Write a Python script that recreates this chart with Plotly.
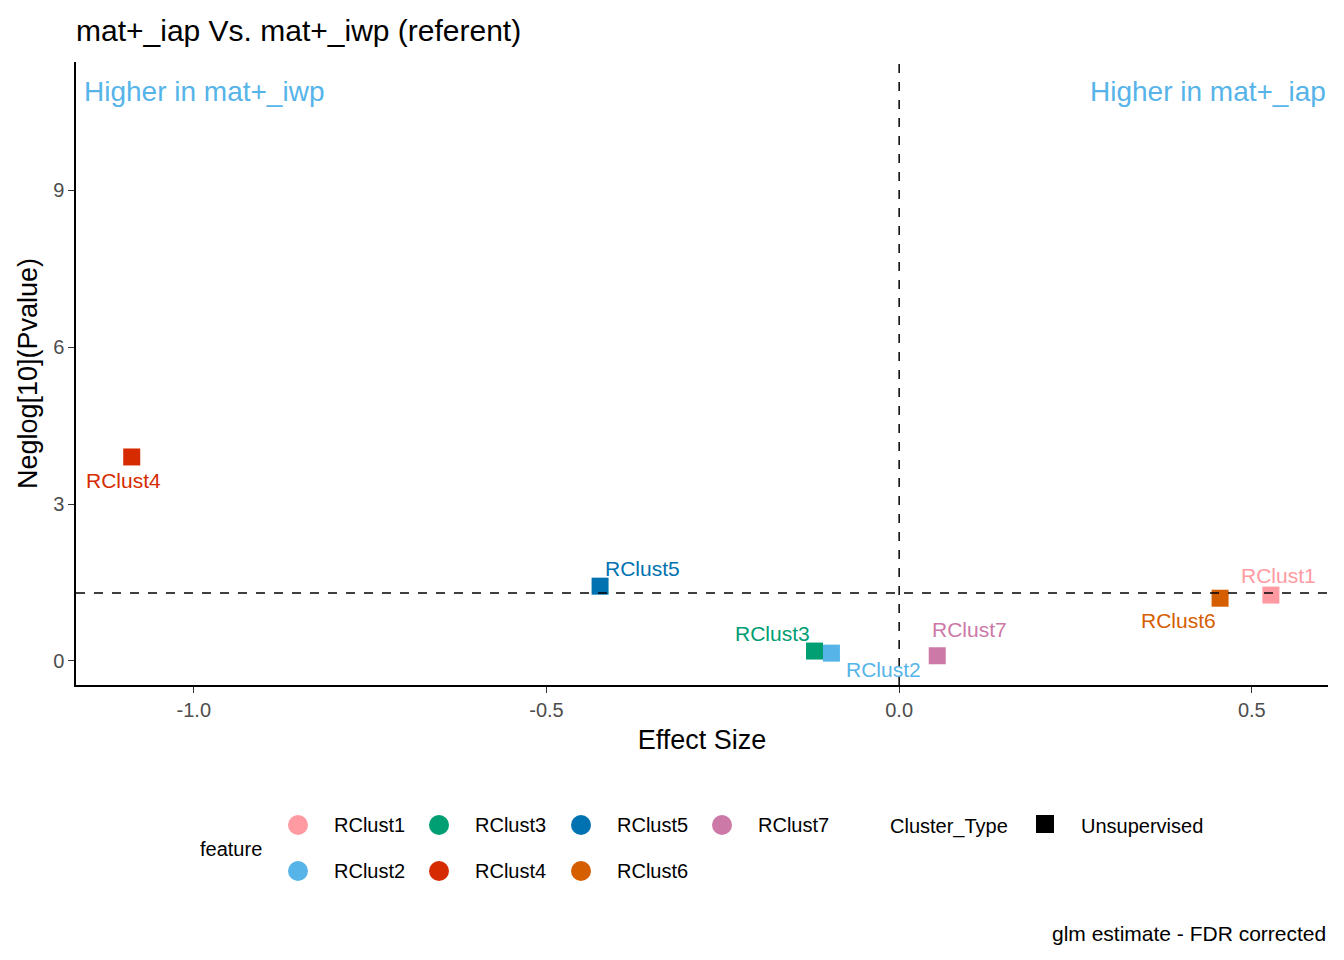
import plotly.graph_objects as go

features = ["RClust1","RClust2","RClust3","RClust4","RClust5","RClust6","RClust7"]
effect = [0.527, -0.096, -0.120, -1.088, -0.424, 0.455, 0.054]
neglog = [1.26, 0.15, 0.19, 3.90, 1.43, 1.20, 0.10]
colors = ["#FF9AA2","#56B4E9","#009E73","#D62B00","#0072B2","#D55E00","#CC79A7"]
label_shift = [(8,20),(52,-16),(-42,18),(-8,-24),(42,18),(-42,-22),(32,26)]

F = "Liberation Sans, Arial, sans-serif"
OFF = 8
fig = go.Figure()
for f, x, y, c in zip(features, effect, neglog, colors):
    fig.add_trace(go.Scatter(x=[x], y=[y], mode="markers", showlegend=False,
                             marker=dict(symbol="square", size=17, color=c)))
for f, x, y, c, (dx, dy) in zip(features, effect, neglog, colors, label_shift):
    fig.add_annotation(x=x, y=y, text=f, showarrow=False, xshift=dx, yshift=dy,
                       font=dict(size=21, color=c, family=F))

fig.add_hline(y=1.301, line=dict(color="black", dash="dash", width=1.5))
fig.add_vline(x=0, line=dict(color="black", dash="dash", width=1.5))

fig.add_annotation(xref="paper", yref="paper", x=0.005, y=0.98, xanchor="left", text="Higher in mat+_iwp",
                   showarrow=False, font=dict(size=28, color="#56B4E9", family=F))
fig.add_annotation(xref="paper", yref="paper", x=1.0, y=0.98, xanchor="right", text="Higher in mat+_iap",
                   showarrow=False, font=dict(size=28, color="#56B4E9", family=F))

W, H = 1344, 960
L, R, T, B = 76 - OFF, 16 + OFF, 62 - OFF, 275 + OFF
pw, ph = W - L - R, H - T - B
def px(x): return (x - OFF - L) / pw
def py(y): return (H - B - (y - OFF)) / ph
def ann(x, y, t, anchor="left", size=20):
    fig.add_annotation(xref="paper", yref="paper", x=px(x), y=py(y), text=t, showarrow=False,
                       xanchor=anchor, yanchor="middle", font=dict(size=size, family=F, color="black"))
ann(198, 849, "feature")
leg = [(298, 825, 0), (439, 825, 2), (581, 825, 4), (722, 825, 6),
       (298, 871, 1), (439, 871, 3), (581, 871, 5)]
for x, y, i in leg:
    fig.add_shape(type="circle", xref="paper", yref="paper", xsizemode="pixel", ysizemode="pixel",
                  xanchor=px(x), yanchor=py(y), x0=-10, x1=10, y0=-10, y1=10,
                  fillcolor=colors[i], line=dict(width=0))
    ann(x + 34, y, features[i])
ann(888, 826, "Cluster_Type")
fig.add_shape(type="rect", xref="paper", yref="paper", xsizemode="pixel", ysizemode="pixel",
              xanchor=px(1045), yanchor=py(824), x0=-9, x1=9, y0=-9, y1=9,
              fillcolor="black", line=dict(width=0))
ann(1079, 826, "Unsupervised")
ann(1328, 933, "glm estimate - FDR corrected", anchor="right", size=21)

fig.update_layout(
    width=W, height=H, plot_bgcolor="white", paper_bgcolor="white",
    margin=dict(l=L, r=R, t=T, b=B),
    title=dict(text="mat+_iap Vs. mat+_iwp (referent)", x=(76-OFF)/W, xanchor="left", y=1-(30-OFF)/H, yanchor="middle",
               font=dict(size=30, family=F, color="black")),
    font=dict(family=F),
    xaxis=dict(range=[-1.167, 0.608], tickvals=[-1.0, -0.5, 0.0, 0.5], ticktext=["-1.0","-0.5","0.0","0.5"],
               showgrid=False, zeroline=False, showline=True, linecolor="black", linewidth=1.5,
               ticks="outside", ticklen=6, tickcolor="#333", tickfont=dict(size=20, color="#4d4d4d"),
               title=dict(text="Effect Size", font=dict(size=27, color="black"), standoff=10)),
    yaxis=dict(range=[-0.459, 11.45], tickvals=[0, 3, 6, 9], showgrid=False, zeroline=False,
               showline=True, linecolor="black", linewidth=1.5, ticks="outside", ticklen=6, tickcolor="#333",
               tickfont=dict(size=20, color="#4d4d4d"),
               title=dict(text="Neglog[10](Pvalue)", font=dict(size=27, color="black"), standoff=8)),
)
fig.write_html("out.html")
